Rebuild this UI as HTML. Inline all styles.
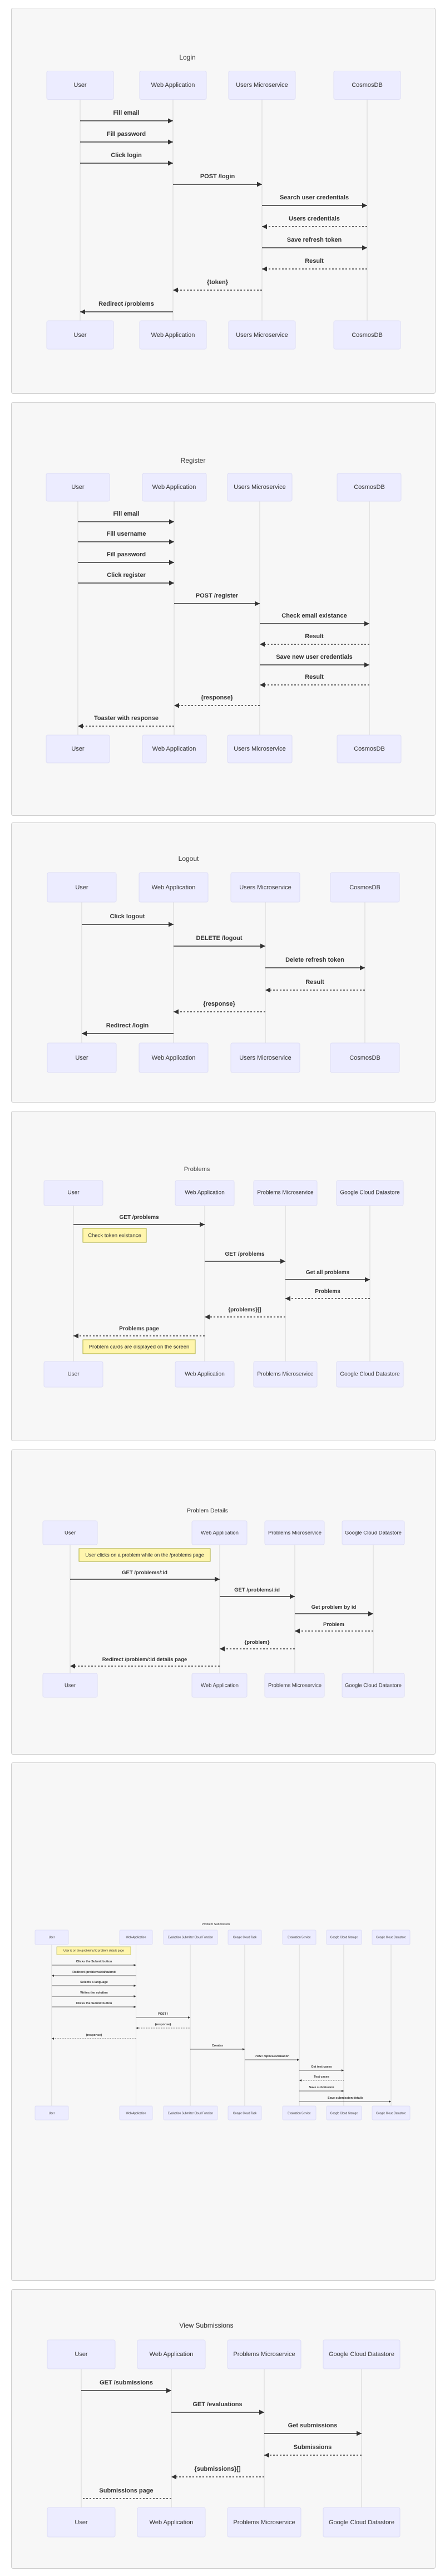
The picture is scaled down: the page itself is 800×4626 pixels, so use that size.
<!DOCTYPE html>
<html><head><meta charset="utf-8">
<style>
html,body{margin:0;padding:0;background:#fff;}
svg{display:block;}
text{font-family:"Liberation Sans",sans-serif;fill:#333;}
.t{font-size:12px;text-anchor:middle;}
.a{font-size:11px;text-anchor:middle;dominant-baseline:middle;}
.m{font-size:11px;font-weight:bold;text-anchor:middle;}
.box{fill:#ECECFF;stroke:#dcdcf5;stroke-width:1;}
.ll{stroke:#d4d4d4;stroke-width:1;}
.s{stroke:#333;stroke-width:1.5;fill:none;marker-end:url(#ah);}
.d{stroke:#333;stroke-width:1.5;fill:none;stroke-dasharray:3,3;marker-end:url(#ah);}
.sx{stroke:#333;stroke-width:0.8;fill:none;marker-end:url(#bh);}
.dx{stroke:#333;stroke-width:0.8;fill:none;stroke-dasharray:1.5,1.5;marker-end:url(#bh);}
.note{fill:#fff5ad;stroke:#aaaa33;stroke-width:1;}
.fr{fill:#f7f7f7;stroke:#cfcfcf;stroke-width:1;}
</style></head><body>
<svg width="800" height="4626" viewBox="0 0 800 4626" xmlns="http://www.w3.org/2000/svg">
<defs>
<marker id="ah" viewBox="0 0 10 10" refX="10" refY="5" markerWidth="9" markerHeight="9" markerUnits="userSpaceOnUse" orient="auto"><path d="M0,0 L10,5 L0,10z" fill="#333"/></marker>
<marker id="bh" viewBox="0 0 10 10" refX="10" refY="5" markerWidth="4" markerHeight="4" markerUnits="userSpaceOnUse" orient="auto"><path d="M0,0 L10,5 L0,10z" fill="#333"/></marker>
</defs>

<!-- Frames -->
<rect class="fr" x="20.5" y="14.5" width="762" height="692" rx="3"/>
<rect class="fr" x="20.5" y="722.5" width="762" height="742" rx="3"/>
<rect class="fr" x="20.5" y="1477.5" width="762" height="502" rx="3"/>
<rect class="fr" x="20.5" y="1995.5" width="762" height="592" rx="3"/>
<rect class="fr" x="20.5" y="2603.5" width="762" height="547" rx="3"/>
<rect class="fr" x="20.5" y="3165.5" width="762" height="930" rx="3"/>
<rect class="fr" x="20.5" y="4111.5" width="762" height="501" rx="3"/>

<!-- ========== LOGIN ========== -->
<text class="t" x="337" y="107">Login</text>
<g>
<line class="ll" x1="144" y1="179" x2="144" y2="576"/>
<line class="ll" x1="311" y1="179" x2="311" y2="576"/>
<line class="ll" x1="471" y1="179" x2="471" y2="576"/>
<line class="ll" x1="660" y1="179" x2="660" y2="576"/>
<rect class="box" x="84" y="127.5" width="120" height="51" rx="3"/><text class="a" x="144" y="153">User</text>
<rect class="box" x="251" y="127.5" width="120" height="51" rx="3"/><text class="a" x="311" y="153">Web Application</text>
<rect class="box" x="411" y="127.5" width="120" height="51" rx="3"/><text class="a" x="471" y="153">Users Microservice</text>
<rect class="box" x="600" y="127.5" width="120" height="51" rx="3"/><text class="a" x="660" y="153">CosmosDB</text>
<rect class="box" x="84" y="576" width="120" height="51" rx="3"/><text class="a" x="144" y="602">User</text>
<rect class="box" x="251" y="576" width="120" height="51" rx="3"/><text class="a" x="311" y="602">Web Application</text>
<rect class="box" x="411" y="576" width="120" height="51" rx="3"/><text class="a" x="471" y="602">Users Microservice</text>
<rect class="box" x="600" y="576" width="120" height="51" rx="3"/><text class="a" x="660" y="602">CosmosDB</text>
<line class="s" x1="144" y1="217" x2="311" y2="217"/><text class="m" x="227" y="206">Fill email</text>
<line class="s" x1="144" y1="255" x2="311" y2="255"/><text class="m" x="227" y="244">Fill password</text>
<line class="s" x1="144" y1="293" x2="311" y2="293"/><text class="m" x="227" y="282">Click login</text>
<line class="s" x1="311" y1="331" x2="471" y2="331"/><text class="m" x="391" y="320">POST /login</text>
<line class="s" x1="471" y1="369" x2="660" y2="369"/><text class="m" x="565" y="358">Search user credentials</text>
<line class="d" x1="660" y1="407" x2="471" y2="407"/><text class="m" x="565" y="396">Users credentials</text>
<line class="s" x1="471" y1="445" x2="660" y2="445"/><text class="m" x="565" y="434">Save refresh token</text>
<line class="d" x1="660" y1="483" x2="471" y2="483"/><text class="m" x="565" y="472">Result</text>
<line class="d" x1="471" y1="521" x2="311" y2="521"/><text class="m" x="391" y="510">{token}</text>
<line class="s" x1="311" y1="560" x2="144" y2="560"/><text class="m" x="227" y="549">Redirect /problems</text>
</g>

<!-- ========== REGISTER ========== -->
<text class="t" x="347" y="831">Register</text>
<g>
<line class="ll" x1="140" y1="900" x2="140" y2="1320"/>
<line class="ll" x1="313" y1="900" x2="313" y2="1320"/>
<line class="ll" x1="467" y1="900" x2="467" y2="1320"/>
<line class="ll" x1="664" y1="900" x2="664" y2="1320"/>
<rect class="box" x="83" y="850" width="114" height="50" rx="3"/><text class="a" x="140" y="875">User</text>
<rect class="box" x="256" y="850" width="115" height="50" rx="3"/><text class="a" x="313" y="875">Web Application</text>
<rect class="box" x="409" y="850" width="116" height="50" rx="3"/><text class="a" x="467" y="875">Users Microservice</text>
<rect class="box" x="606" y="850" width="115" height="50" rx="3"/><text class="a" x="664" y="875">CosmosDB</text>
<rect class="box" x="83" y="1320" width="114" height="50" rx="3"/><text class="a" x="140" y="1345">User</text>
<rect class="box" x="256" y="1320" width="115" height="50" rx="3"/><text class="a" x="313" y="1345">Web Application</text>
<rect class="box" x="409" y="1320" width="116" height="50" rx="3"/><text class="a" x="467" y="1345">Users Microservice</text>
<rect class="box" x="606" y="1320" width="115" height="50" rx="3"/><text class="a" x="664" y="1345">CosmosDB</text>
<line class="s" x1="140" y1="937" x2="313" y2="937"/><text class="m" x="227" y="926">Fill email</text>
<line class="s" x1="140" y1="973" x2="313" y2="973"/><text class="m" x="227" y="962">Fill username</text>
<line class="s" x1="140" y1="1010" x2="313" y2="1010"/><text class="m" x="227" y="999">Fill password</text>
<line class="s" x1="140" y1="1047" x2="313" y2="1047"/><text class="m" x="227" y="1036">Click register</text>
<line class="s" x1="313" y1="1084" x2="467" y2="1084"/><text class="m" x="390" y="1073">POST /register</text>
<line class="s" x1="467" y1="1120" x2="664" y2="1120"/><text class="m" x="565" y="1109">Check email existance</text>
<line class="d" x1="664" y1="1157" x2="467" y2="1157"/><text class="m" x="565" y="1146">Result</text>
<line class="s" x1="467" y1="1194" x2="664" y2="1194"/><text class="m" x="565" y="1183">Save new user credentials</text>
<line class="d" x1="664" y1="1230" x2="467" y2="1230"/><text class="m" x="565" y="1219">Result</text>
<line class="d" x1="467" y1="1267" x2="313" y2="1267"/><text class="m" x="390" y="1256">{response}</text>
<line class="d" x1="313" y1="1304" x2="140" y2="1304"/><text class="m" x="227" y="1293">Toaster with response</text>
</g>

<!-- ========== LOGOUT ========== -->
<text class="t" x="339" y="1546">Logout</text>
<g>
<line class="ll" x1="147" y1="1620" x2="147" y2="1873"/>
<line class="ll" x1="312" y1="1620" x2="312" y2="1873"/>
<line class="ll" x1="477" y1="1620" x2="477" y2="1873"/>
<line class="ll" x1="656" y1="1620" x2="656" y2="1873"/>
<rect class="box" x="85" y="1567" width="124" height="53" rx="3"/><text class="a" x="147" y="1594">User</text>
<rect class="box" x="250" y="1567" width="124" height="53" rx="3"/><text class="a" x="312" y="1594">Web Application</text>
<rect class="box" x="415" y="1567" width="124" height="53" rx="3"/><text class="a" x="477" y="1594">Users Microservice</text>
<rect class="box" x="594" y="1567" width="124" height="53" rx="3"/><text class="a" x="656" y="1594">CosmosDB</text>
<rect class="box" x="85" y="1873" width="124" height="53" rx="3"/><text class="a" x="147" y="1900">User</text>
<rect class="box" x="250" y="1873" width="124" height="53" rx="3"/><text class="a" x="312" y="1900">Web Application</text>
<rect class="box" x="415" y="1873" width="124" height="53" rx="3"/><text class="a" x="477" y="1900">Users Microservice</text>
<rect class="box" x="594" y="1873" width="124" height="53" rx="3"/><text class="a" x="656" y="1900">CosmosDB</text>
<line class="s" x1="147" y1="1660" x2="312" y2="1660"/><text class="m" x="229" y="1649">Click logout</text>
<line class="s" x1="312" y1="1699" x2="477" y2="1699"/><text class="m" x="394" y="1688">DELETE /logout</text>
<line class="s" x1="477" y1="1738" x2="656" y2="1738"/><text class="m" x="566" y="1727">Delete refresh token</text>
<line class="d" x1="656" y1="1778" x2="477" y2="1778"/><text class="m" x="566" y="1767">Result</text>
<line class="d" x1="477" y1="1817" x2="312" y2="1817"/><text class="m" x="394" y="1806">{response}</text>
<line class="s" x1="312" y1="1856" x2="147" y2="1856"/><text class="m" x="229" y="1845">Redirect /login</text>
</g>

<!-- ========== PROBLEMS ========== -->
<text class="t" x="354" y="2103" style="font-size:11px">Problems</text>
<g style="font-size:10px">
<line class="ll" x1="132" y1="2165" x2="132" y2="2445"/>
<line class="ll" x1="368" y1="2165" x2="368" y2="2445"/>
<line class="ll" x1="513" y1="2165" x2="513" y2="2445"/>
<line class="ll" x1="665" y1="2165" x2="665" y2="2445"/>
<rect class="box" x="79" y="2120" width="106" height="45" rx="3"/><text class="a" style="font-size:10px" x="132" y="2142">User</text>
<rect class="box" x="315" y="2120" width="106" height="45" rx="3"/><text class="a" style="font-size:10px" x="368" y="2142">Web Application</text>
<rect class="box" x="456" y="2120" width="114" height="45" rx="3"/><text class="a" style="font-size:10px" x="513" y="2142">Problems Microservice</text>
<rect class="box" x="605" y="2120" width="120" height="45" rx="3"/><text class="a" style="font-size:10px" x="665" y="2142">Google Cloud Datastore</text>
<rect class="box" x="79" y="2445" width="106" height="46" rx="3"/><text class="a" style="font-size:10px" x="132" y="2468">User</text>
<rect class="box" x="315" y="2445" width="106" height="46" rx="3"/><text class="a" style="font-size:10px" x="368" y="2468">Web Application</text>
<rect class="box" x="456" y="2445" width="114" height="46" rx="3"/><text class="a" style="font-size:10px" x="513" y="2468">Problems Microservice</text>
<rect class="box" x="605" y="2445" width="120" height="46" rx="3"/><text class="a" style="font-size:10px" x="665" y="2468">Google Cloud Datastore</text>
<line class="s" x1="132" y1="2199" x2="368" y2="2199"/><text class="m" style="font-size:10px" x="250" y="2189">GET /problems</text>
<rect class="note" x="149" y="2206" width="114" height="25"/><text class="a" style="font-size:9.5px" x="206" y="2219">Check token existance</text>
<line class="s" x1="368" y1="2265" x2="513" y2="2265"/><text class="m" style="font-size:10px" x="440" y="2255">GET /problems</text>
<line class="s" x1="513" y1="2298" x2="665" y2="2298"/><text class="m" style="font-size:10px" x="589" y="2288">Get all problems</text>
<line class="d" x1="665" y1="2332" x2="513" y2="2332"/><text class="m" style="font-size:10px" x="589" y="2322">Problems</text>
<line class="d" x1="513" y1="2365" x2="368" y2="2365"/><text class="m" style="font-size:10px" x="440" y="2355">{problems}[]</text>
<line class="d" x1="368" y1="2399" x2="132" y2="2399"/><text class="m" style="font-size:10px" x="250" y="2389">Problems page</text>
<rect class="note" x="149" y="2406" width="202" height="25"/><text class="a" style="font-size:9.5px" x="250" y="2419">Problem cards are displayed on the screen</text>
</g>

<!-- ========== PROBLEM DETAILS ========== -->
<text class="t" x="373" y="2716" style="font-size:10.5px">Problem Details</text>
<g>
<line class="ll" x1="126" y1="2774" x2="126" y2="3005"/>
<line class="ll" x1="395" y1="2774" x2="395" y2="3005"/>
<line class="ll" x1="530" y1="2774" x2="530" y2="3005"/>
<line class="ll" x1="671" y1="2774" x2="671" y2="3005"/>
<rect class="box" x="77" y="2731" width="98" height="43" rx="3"/><text class="a" style="font-size:9.5px" x="126" y="2753">User</text>
<rect class="box" x="345" y="2731" width="99" height="43" rx="3"/><text class="a" style="font-size:9.5px" x="395" y="2753">Web Application</text>
<rect class="box" x="476" y="2731" width="107" height="43" rx="3"/><text class="a" style="font-size:9.5px" x="530" y="2753">Problems Microservice</text>
<rect class="box" x="615" y="2731" width="112" height="43" rx="3"/><text class="a" style="font-size:9.5px" x="671" y="2753">Google Cloud Datastore</text>
<rect class="box" x="77" y="3005" width="98" height="43" rx="3"/><text class="a" style="font-size:9.5px" x="126" y="3027">User</text>
<rect class="box" x="345" y="3005" width="99" height="43" rx="3"/><text class="a" style="font-size:9.5px" x="395" y="3027">Web Application</text>
<rect class="box" x="476" y="3005" width="107" height="43" rx="3"/><text class="a" style="font-size:9.5px" x="530" y="3027">Problems Microservice</text>
<rect class="box" x="615" y="3005" width="112" height="43" rx="3"/><text class="a" style="font-size:9.5px" x="671" y="3027">Google Cloud Datastore</text>
<rect class="note" x="142" y="2781" width="236" height="23"/><text class="a" style="font-size:9px" x="260" y="2793">User clicks on a problem while on the /problems page</text>
<line class="s" x1="126" y1="2836" x2="395" y2="2836"/><text class="m" style="font-size:9.5px" x="260" y="2827">GET /problems/:id</text>
<line class="s" x1="395" y1="2867" x2="530" y2="2867"/><text class="m" style="font-size:9.5px" x="462" y="2858">GET /problems/:id</text>
<line class="s" x1="530" y1="2898" x2="671" y2="2898"/><text class="m" style="font-size:9.5px" x="600" y="2889">Get problem by id</text>
<line class="d" x1="671" y1="2929" x2="530" y2="2929"/><text class="m" style="font-size:9.5px" x="600" y="2920">Problem</text>
<line class="d" x1="530" y1="2961" x2="395" y2="2961"/><text class="m" style="font-size:9.5px" x="462" y="2952">{problem}</text>
<line class="d" x1="395" y1="2992" x2="126" y2="2992"/><text class="m" style="font-size:9.5px" x="260" y="2983">Redirect /problem/:id details page</text>
</g>

<!-- ========== PROBLEM SUBMISSION (small) ========== -->
<g>
<text class="t" x="388" y="3457" style="font-size:5.5px">Problem Submission</text>
<line class="ll" x1="93" y1="3492" x2="93" y2="3782"/>
<line class="ll" x1="244.5" y1="3492" x2="244.5" y2="3782"/>
<line class="ll" x1="342" y1="3492" x2="342" y2="3782"/>
<line class="ll" x1="440" y1="3492" x2="440" y2="3782"/>
<line class="ll" x1="538" y1="3492" x2="538" y2="3782"/>
<line class="ll" x1="618" y1="3492" x2="618" y2="3782"/>
<line class="ll" x1="703" y1="3492" x2="703" y2="3782"/>
<g style="font-size:5px">
<rect class="box" x="63" y="3466" width="60" height="26" rx="2"/><text class="a" style="font-size:5px" x="93" y="3479">User</text>
<rect class="box" x="215" y="3466" width="59" height="26" rx="2"/><text class="a" style="font-size:5px" x="244.5" y="3479">Web Application</text>
<rect class="box" x="294" y="3466" width="97" height="26" rx="2"/><text class="a" style="font-size:5px" x="342.5" y="3479">Evaluation Submitter Cloud Function</text>
<rect class="box" x="410" y="3466" width="60" height="26" rx="2"/><text class="a" style="font-size:5px" x="440" y="3479">Google Cloud Task</text>
<rect class="box" x="508" y="3466" width="60" height="26" rx="2"/><text class="a" style="font-size:5px" x="538" y="3479">Evaluation Service</text>
<rect class="box" x="587" y="3466" width="63" height="26" rx="2"/><text class="a" style="font-size:5px" x="618.5" y="3479">Google Cloud Storage</text>
<rect class="box" x="669" y="3466" width="68" height="26" rx="2"/><text class="a" style="font-size:5px" x="703" y="3479">Google Cloud Datastore</text>
<rect class="box" x="63" y="3782" width="60" height="25" rx="2"/><text class="a" style="font-size:5px" x="93" y="3795">User</text>
<rect class="box" x="215" y="3782" width="59" height="25" rx="2"/><text class="a" style="font-size:5px" x="244.5" y="3795">Web Application</text>
<rect class="box" x="294" y="3782" width="97" height="25" rx="2"/><text class="a" style="font-size:5px" x="342.5" y="3795">Evaluation Submitter Cloud Function</text>
<rect class="box" x="410" y="3782" width="60" height="25" rx="2"/><text class="a" style="font-size:5px" x="440" y="3795">Google Cloud Task</text>
<rect class="box" x="508" y="3782" width="60" height="25" rx="2"/><text class="a" style="font-size:5px" x="538" y="3795">Evaluation Service</text>
<rect class="box" x="587" y="3782" width="63" height="25" rx="2"/><text class="a" style="font-size:5px" x="618.5" y="3795">Google Cloud Storage</text>
<rect class="box" x="669" y="3782" width="68" height="25" rx="2"/><text class="a" style="font-size:5px" x="703" y="3795">Google Cloud Datastore</text>
</g>
<rect class="note" x="102" y="3496" width="133" height="14" style="stroke-width:0.6"/><text class="a" style="font-size:5px" x="168.5" y="3503">User is on the /problems/:id problem details page</text>
<line class="sx" x1="93" y1="3529" x2="244.5" y2="3529"/><text class="m" style="font-size:5.5px" x="169" y="3524">Clicks the Submit button</text>
<line class="sx" x1="244.5" y1="3548" x2="93" y2="3548"/><text class="m" style="font-size:5.5px" x="169" y="3543">Redirect /problems/:id/submit</text>
<line class="sx" x1="93" y1="3566" x2="244.5" y2="3566"/><text class="m" style="font-size:5.5px" x="169" y="3561">Selects a language</text>
<line class="sx" x1="93" y1="3585" x2="244.5" y2="3585"/><text class="m" style="font-size:5.5px" x="169" y="3580">Writes the solution</text>
<line class="sx" x1="93" y1="3604" x2="244.5" y2="3604"/><text class="m" style="font-size:5.5px" x="169" y="3599">Clicks the Submit button</text>
<line class="sx" x1="244.5" y1="3623" x2="342" y2="3623"/><text class="m" style="font-size:5.5px" x="293" y="3618">POST /</text>
<line class="dx" x1="342" y1="3642" x2="244.5" y2="3642"/><text class="m" style="font-size:5.5px" x="293" y="3637">{response}</text>
<line class="dx" x1="244.5" y1="3661" x2="93" y2="3661"/><text class="m" style="font-size:5.5px" x="169" y="3656">{response}</text>
<line class="sx" x1="342" y1="3680" x2="440" y2="3680"/><text class="m" style="font-size:5.5px" x="391" y="3675">Creates</text>
<line class="sx" x1="440" y1="3699" x2="538" y2="3699"/><text class="m" style="font-size:5.5px" x="489" y="3694">POST /api/v1/evaluation</text>
<line class="sx" x1="538" y1="3718" x2="618" y2="3718"/><text class="m" style="font-size:5.5px" x="578" y="3713">Get test cases</text>
<line class="dx" x1="618" y1="3736" x2="538" y2="3736"/><text class="m" style="font-size:5.5px" x="578" y="3731">Test cases</text>
<line class="sx" x1="538" y1="3755" x2="618" y2="3755"/><text class="m" style="font-size:5.5px" x="578" y="3750">Save submission</text>
<line class="sx" x1="538" y1="3774" x2="703" y2="3774"/><text class="m" style="font-size:5.5px" x="621" y="3769">Save submission details</text>
</g>

<!-- ========== VIEW SUBMISSIONS ========== -->
<text class="t" x="371" y="4180">View Submissions</text>
<g>
<line class="ll" x1="146" y1="4254" x2="146" y2="4503"/>
<line class="ll" x1="308" y1="4254" x2="308" y2="4503"/>
<line class="ll" x1="475" y1="4254" x2="475" y2="4503"/>
<line class="ll" x1="650" y1="4254" x2="650" y2="4503"/>
<rect class="box" x="85" y="4202" width="122" height="52" rx="3"/><text class="a" x="146" y="4228">User</text>
<rect class="box" x="247" y="4202" width="122" height="52" rx="3"/><text class="a" x="308" y="4228">Web Application</text>
<rect class="box" x="409" y="4202" width="132" height="52" rx="3"/><text class="a" x="475" y="4228">Problems Microservice</text>
<rect class="box" x="581" y="4202" width="138" height="52" rx="3"/><text class="a" x="650" y="4228">Google Cloud Datastore</text>
<rect class="box" x="85" y="4503" width="122" height="53" rx="3"/><text class="a" x="146" y="4530">User</text>
<rect class="box" x="247" y="4503" width="122" height="53" rx="3"/><text class="a" x="308" y="4530">Web Application</text>
<rect class="box" x="409" y="4503" width="132" height="53" rx="3"/><text class="a" x="475" y="4530">Problems Microservice</text>
<rect class="box" x="581" y="4503" width="138" height="53" rx="3"/><text class="a" x="650" y="4530">Google Cloud Datastore</text>
<line class="s" x1="146" y1="4293" x2="308" y2="4293"/><text class="m" x="227" y="4282">GET /submissions</text>
<line class="s" x1="308" y1="4332" x2="475" y2="4332"/><text class="m" x="391" y="4321">GET /evaluations</text>
<line class="s" x1="475" y1="4370" x2="650" y2="4370"/><text class="m" x="562" y="4359">Get submissions</text>
<line class="d" x1="650" y1="4409" x2="475" y2="4409"/><text class="m" x="562" y="4398">Submissions</text>
<line class="d" x1="475" y1="4448" x2="308" y2="4448"/><text class="m" x="391" y="4437">{submissions}[]</text>
<line x1="308" y1="4487" x2="146" y2="4487" stroke="#333" stroke-width="1.5" stroke-dasharray="3,3"/><text class="m" x="227" y="4476">Submissions page</text>
</g>
</svg>
</body></html>
